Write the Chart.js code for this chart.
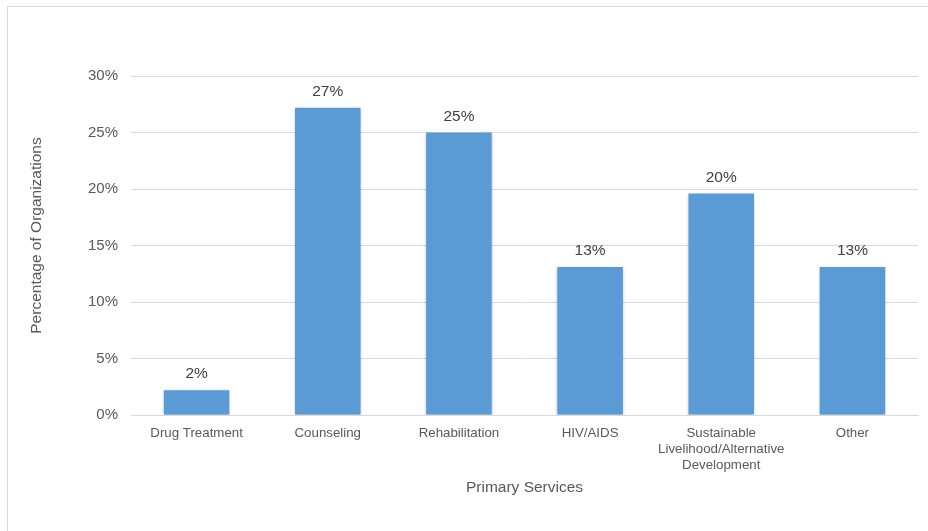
<!DOCTYPE html>
<html>
<head>
<meta charset="utf-8">
<script src="https://cdn.jsdelivr.net/npm/chart.js@4/dist/chart.umd.min.js"></script>
<style>
    html, body { margin: 0; padding: 0; background: #fff; overflow: hidden; }
    #frame {
        position: absolute; left: 7px; top: 6px; width: 940px; height: 540px;
        border: 1px solid #d9d9d9; box-sizing: border-box;
    }
    #wrap { position: absolute; left: 0; top: 0; width: 928px; height: 531px; }
</style>
</head>
<body>
<div id="frame"></div>
<div id="wrap"><canvas id="servicesChart"></canvas></div>
<script>
// Serviços primários das organizações (% do total)
const categorias = [
    'Drug Treatment',
    'Counseling',
    'Rehabilitation',
    'HIV/AIDS',
    ['Sustainable', 'Livelihood/Alternative', 'Development'],
    'Other'
];
const percentuais = [2.2, 27.2, 25.0, 13.1, 19.6, 13.1];
const ticksY = [0, 5, 10, 15, 20, 25, 30];
const tituloY = 'Percentage of Organizations';

const fonte = "'Liberation Sans', Arial, sans-serif";

// Rótulos de valor acima das barras
const rotulosPlugin = {
    id: 'rotulos',
    afterDatasetsDraw(chart) {
        const ctx = chart.ctx;
        const meta = chart.getDatasetMeta(0);
        ctx.save();
        ctx.font = '15.5px ' + fonte;
        ctx.fillStyle = '#404040';
        ctx.textAlign = 'center';
        ctx.textBaseline = 'alphabetic';
        meta.data.forEach((bar, i) => {
            ctx.fillText(Math.round(percentuais[i]) + '%', bar.x, bar.y - 12);
        });
        ctx.restore();
    }
};

// Título do eixo Y (um pouco acima do centro da área)
const tituloYPlugin = {
    id: 'tituloY',
    afterDraw(chart) {
        const ctx = chart.ctx;
        const area = chart.chartArea;
        ctx.save();
        ctx.translate(37, (area.top + area.bottom) / 2 - 10);
        ctx.rotate(-Math.PI / 2);
        ctx.font = '15.5px ' + fonte;
        ctx.fillStyle = '#595959';
        ctx.textAlign = 'center';
        ctx.textBaseline = 'middle';
        ctx.fillText(tituloY, 0, 0);
        ctx.restore();
    }
};

// Sombra leve nas barras
const sombraPlugin = {
    id: 'sombra',
    beforeDatasetDraw(chart) {
        const ctx = chart.ctx;
        ctx.save();
        ctx.shadowColor = 'rgba(0, 0, 0, 0.25)';
        ctx.shadowBlur = 3;
        ctx.shadowOffsetX = 0;
        ctx.shadowOffsetY = 1;
    },
    afterDatasetDraw(chart) {
        chart.ctx.restore();
    }
};

new Chart(document.getElementById('servicesChart'), {
    type: 'bar',
    data: {
        labels: categorias,
        datasets: [{
            label: tituloY,
            data: percentuais,
            backgroundColor: '#5b9bd5',
            categoryPercentage: 1.0,
            barPercentage: 0.5
        }]
    },
    options: {
        responsive: true,
        maintainAspectRatio: false,
        animation: false,
        layout: { padding: { left: 25, right: 10, top: 76, bottom: 30 } },
        plugins: {
            legend: { display: false },
            tooltip: { enabled: false }
        },
        scales: {
            x: {
                grid: { display: false, drawTicks: false },
                border: { color: '#d9d9d9' },
                ticks: {
                    color: '#595959',
                    font: { family: fonte, size: 13.3, lineHeight: 1.2 },
                    padding: 10,
                    maxRotation: 0,
                    autoSkip: false
                },
                title: {
                    display: true,
                    text: 'Primary Services',
                    color: '#595959',
                    font: { family: fonte, size: 15.5 },
                    padding: { top: 4, bottom: 4 }
                },
                afterFit(scale) { scale.height = 86; }
            },
            y: {
                min: 0,
                max: 30,
                afterBuildTicks(scale) {
                    scale.ticks = ticksY.map(v => ({ value: v }));
                },
                grid: { color: '#d9d9d9', drawTicks: false },
                border: { display: false },
                ticks: {
                    color: '#595959',
                    font: { family: fonte, size: 15 },
                    padding: 13,
                    callback: v => v + '%'
                },
                afterFit(scale) { scale.width = 106; }
            }
        }
    },
    plugins: [sombraPlugin, rotulosPlugin, tituloYPlugin]
});
</script>
</body>
</html>
